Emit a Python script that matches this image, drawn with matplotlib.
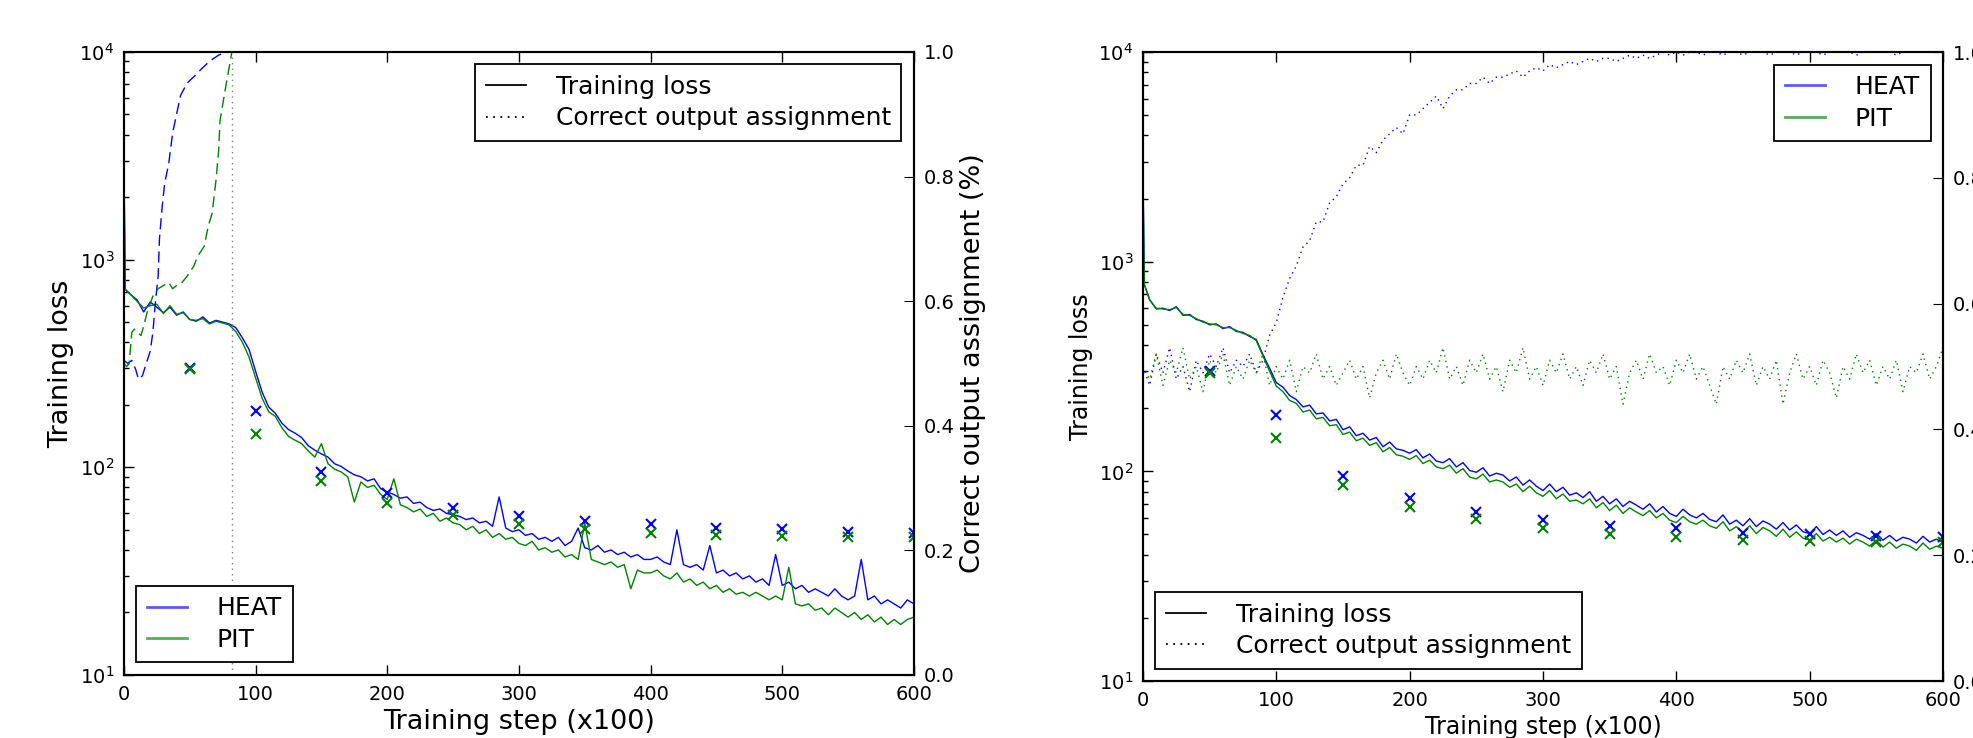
import numpy as np
import matplotlib
matplotlib.use('Agg')
import matplotlib.pyplot as plt
from matplotlib.lines import Line2D
from matplotlib.ticker import FormatStrFormatter

plt.rcParams['font.family'] = ['DejaVu Sans']
plt.rcParams['mathtext.fontset'] = 'dejavusans'
plt.rcParams['mathtext.default'] = 'regular'

# ---- data ----
loss_steps = np.r_[0, 1, np.arange(5, 601, 5)]

left_heat_loss = [3000, 720,
    680, 640, 560, 625, 590, 555, 590, 540, 560, 515,
    505, 530, 495, 510, 500, 490, 470, 420, 370, 290,
    230, 195, 182, 163, 152, 146, 139, 127, 121, 116,
    112, 104, 101, 96, 92, 90, 86, 88, 79, 76,
    74, 71, 72, 67, 68, 64, 62, 63, 60, 59,
    58, 56, 57, 54, 55, 52, 72, 51, 49, 50,
    47, 48, 45, 46, 44, 46, 42, 44, 51, 41,
    40, 42, 39, 40, 38, 39, 37, 38, 36, 36,
    37, 35, 34, 50, 34, 33, 34, 32, 42, 31,
    32, 30, 31, 29, 30, 28, 29, 27, 38, 27,
    28, 26, 27, 25, 26, 25, 24, 26, 24, 23,
    24, 36, 23, 24, 22, 23, 22, 21, 23, 22]

left_pit_loss = [3000, 720,
    680, 630, 585, 600, 610, 550, 600, 545, 555, 515,
    510, 520, 490, 505, 495, 485, 450, 400, 340, 270,
    215, 185, 176, 155, 141, 135, 130, 120, 112, 130,
    104, 98, 95, 90, 68, 85, 80, 82, 74, 70,
    88, 66, 64, 61, 63, 58, 60, 55, 57, 54,
    53, 50, 52, 48, 50, 46, 48, 45, 46, 43,
    42, 44, 40, 41, 39, 40, 37, 38, 36, 54,
    36, 35, 34, 35, 33, 34, 26, 32, 31, 31,
    32, 30, 29, 31, 28, 29, 27, 28, 26, 27,
    25, 26, 24.5, 25, 24, 25, 24, 23, 24, 23,
    33, 22, 21.5, 22, 20.5, 21, 19.5, 21, 20, 19,
    20, 18.5, 19.5, 18, 19, 17.5, 18.5, 17.5, 18.5, 19]

right_heat_loss = [2720, 780,
    660, 595, 600, 585, 610, 555, 560, 530, 520, 500,
    505, 480, 490, 465, 460, 440, 425, 360, 310, 265,
    252, 230, 220, 203, 207, 188, 190, 174, 177, 158,
    163, 148, 152, 141, 145, 131, 138, 128, 126, 122,
    127, 116, 121, 112, 110, 115, 105, 110, 101, 99,
    104, 95, 98, 96, 90, 94, 86, 91, 85, 81,
    87, 80, 84, 77, 79, 75, 80, 72, 76, 70,
    74, 68, 72, 69, 66, 70, 64, 68, 63, 61,
    66, 62, 60, 63, 59, 57.5, 62, 56, 58.5, 55,
    59.5, 54.5, 58, 56, 53, 57, 52.5, 55.5, 51.5, 50.5,
    54.5, 50, 52.5, 49.5, 52, 48.5, 51, 49.5, 47.5, 50.5,
    47, 49.5, 46.5, 48.5, 47.5, 45.5, 49, 46, 47.5, 46]

right_pit_loss = [2720, 780,
    655, 600, 595, 590, 605, 560, 555, 535, 515, 505,
    500, 485, 485, 470, 455, 445, 420, 355, 300, 255,
    240, 218, 211, 192, 196, 178, 181, 165, 167, 150,
    154, 140, 144, 133, 137, 124, 130, 120, 118, 114,
    119, 109, 113, 105, 103, 107, 98, 103, 94, 92,
    97, 89, 91, 89, 84, 87, 80, 85, 79, 76,
    81, 74, 78, 72, 73, 70, 74, 67, 71, 65,
    69, 63, 67, 64, 61.5, 65, 60, 63, 58.5, 57,
    61, 57.5, 56, 58.5, 55, 53.5, 57.5, 52, 54.5, 51,
    55, 50.5, 54, 52, 49, 53, 48.5, 51.5, 48, 47,
    50.5, 46.5, 48.5, 46, 48, 45, 47.5, 46, 44, 47,
    43.5, 46, 43, 45, 44, 42, 45.5, 42.5, 44, 43]

val_steps = [50, 100, 150, 200, 250, 300, 350, 400, 450, 500, 550, 600]
val_heat = [300, 186, 95, 75, 64, 58.5, 55, 53.5, 51, 50.4, 49, 48.5]
val_pit = [296, 144, 86, 67.5, 59, 53.5, 50.5, 48.5, 47, 46.6, 46, 46]

# correct output assignment, left panel
left_heat_asg_steps = [0, 3, 6, 9, 11, 14, 17, 20, 22, 24, 26, 27, 29, 31, 34,
                       37, 40, 43, 48, 53, 59, 65, 72, 78]
left_heat_asg = [0.505, 0.50, 0.505, 0.49, 0.475, 0.48, 0.50, 0.52, 0.55, 0.60,
                 0.64, 0.70, 0.75, 0.79, 0.82, 0.87, 0.90, 0.93, 0.95, 0.96,
                 0.973, 0.985, 0.995, 1.0]
left_pit_asg_steps = [0, 2, 4, 6, 8, 10, 13, 15, 18, 22, 26, 30, 34, 37, 40, 43,
                      48, 53, 56, 61, 64, 67, 70, 72, 73, 77, 80, 82]
left_pit_asg = [0.50, 0.495, 0.50, 0.55, 0.555, 0.55, 0.545, 0.56, 0.585, 0.608,
                0.62, 0.625, 0.63, 0.62, 0.625, 0.627, 0.64, 0.656, 0.672, 0.688,
                0.72, 0.741, 0.795, 0.843, 0.89, 0.94, 0.976, 1.0]
switch_step = 82

# correct output assignment, right panel
asg_steps = np.arange(0, 601, 5)
right_heat_asg = [
    0.50, 0.47, 0.52, 0.49, 0.53, 0.48, 0.50, 0.46, 0.51, 0.49,
    0.52, 0.50, 0.53, 0.49, 0.51, 0.50, 0.52, 0.49, 0.51, 0.55,
    0.57, 0.61, 0.64, 0.66, 0.69, 0.70, 0.73, 0.73, 0.76, 0.77,
    0.79, 0.80, 0.82, 0.82, 0.85, 0.84, 0.86, 0.87, 0.88, 0.87,
    0.90, 0.90, 0.91, 0.92, 0.93, 0.91, 0.93, 0.94, 0.94, 0.95,
    0.95, 0.96, 0.95, 0.96, 0.96, 0.965, 0.97, 0.96, 0.97, 0.975,
    0.97, 0.98, 0.975, 0.98, 0.985, 0.98, 0.985, 0.99, 0.985, 0.99,
    0.99, 0.985, 0.99, 0.995, 0.99, 0.995, 0.99, 0.995, 1.0, 0.995,
    1.0, 0.995, 1.0, 1.0, 0.995, 1.0, 1.0, 0.995, 1.0, 1.0,
    0.995, 1.0, 1.0, 1.0, 0.995, 1.0, 1.0, 1.0, 0.995, 1.0,
    1.0, 1.0, 0.995, 1.0, 1.0, 1.0, 1.0, 0.995, 1.0, 1.0,
    1.0, 1.0, 1.0, 0.995, 1.0, 1.0, 1.0, 1.0, 1.0, 1.0,
    1.0]
right_pit_asg = [
    0.50, 0.48, 0.52, 0.47, 0.51, 0.49, 0.53, 0.48, 0.50, 0.46,
    0.51, 0.49, 0.52, 0.47, 0.50, 0.48, 0.51, 0.49, 0.52, 0.47,
    0.50, 0.48, 0.51, 0.46, 0.50, 0.49, 0.52, 0.48, 0.50, 0.47,
    0.49, 0.51, 0.48, 0.50, 0.45, 0.49, 0.51, 0.48, 0.52, 0.49,
    0.47, 0.50, 0.48, 0.51, 0.49, 0.53, 0.48, 0.50, 0.47, 0.51,
    0.49, 0.52, 0.48, 0.50, 0.46, 0.51, 0.49, 0.53, 0.48, 0.50,
    0.47, 0.51, 0.49, 0.52, 0.48, 0.50, 0.47, 0.51, 0.49, 0.52,
    0.48, 0.50, 0.44, 0.49, 0.51, 0.48, 0.52, 0.49, 0.50, 0.47,
    0.51, 0.49, 0.52, 0.48, 0.50, 0.47, 0.44, 0.50, 0.48, 0.51,
    0.49, 0.52, 0.47, 0.50, 0.48, 0.51, 0.44, 0.49, 0.52, 0.48,
    0.50, 0.47, 0.51, 0.49, 0.45, 0.50, 0.48, 0.52, 0.49, 0.51,
    0.47, 0.50, 0.48, 0.51, 0.46, 0.50, 0.49, 0.52, 0.48, 0.50,
    0.53]

BLUE = '#0000ff'
GREEN = '#008000'
DOTS = (0, (1, 3))
DASH = (0, (8, 4))


def style_axes(ax, ax2, label_size):
    ax.set_yscale('log')
    ax.set_ylim(10, 1e4)
    ax.set_xlim(0, 600)
    ax.set_xticks(range(0, 601, 100))
    ax.tick_params(which='both', direction='in', top=True, right=False,
                   labelsize=14, pad=7)
    ax.tick_params(which='major', length=7, width=1)
    ax.tick_params(which='minor', length=3.5, width=1)
    ax2.set_ylim(0, 1)
    ax2.set_yticks(np.arange(0, 1.01, 0.2))
    ax2.yaxis.set_major_formatter(FormatStrFormatter('%.1f'))
    ax2.tick_params(direction='in', length=7, labelsize=14, pad=7)
    for a in (ax, ax2):
        for s in a.spines.values():
            s.set_linewidth(1.5)
    ax.set_xlabel('Training step (x100)', fontsize=label_size)
    ax.set_ylabel('Training loss', fontsize=label_size)


def legend(ax, handles, labels, loc):
    leg = ax.legend(handles, labels, loc=loc, fontsize=18, fancybox=False,
                    handlelength=1.6, handletextpad=1.2, borderpad=0.42,
                    labelspacing=0.3, borderaxespad=0.5, framealpha=1)
    leg.get_frame().set_edgecolor('black')
    leg.get_frame().set_linewidth(1.3)
    return leg


fig = plt.figure(figsize=(19.73, 7.38), dpi=100)

ax1 = fig.add_axes([0.0628, 0.0854, 0.4004, 0.8442])
ax1b = ax1.twinx()
ax3 = fig.add_axes([0.5793, 0.0772, 0.4055, 0.8523])
ax3b = ax3.twinx()

# left panel
ax1.plot(loss_steps, left_heat_loss, color=BLUE, lw=1)
ax1.plot(loss_steps, left_pit_loss, color=GREEN, lw=1)
ax1.plot(val_steps, val_heat, 'x', color=BLUE, ms=7, mew=1.5)
ax1.plot(val_steps, val_pit, 'x', color=GREEN, ms=7, mew=1.5)
ax1b.plot(left_heat_asg_steps, left_heat_asg, color=BLUE, lw=1, linestyle=DASH)
ax1b.plot(left_pit_asg_steps, left_pit_asg, color=GREEN, lw=1, linestyle=DASH)
ax1b.axvline(switch_step, color='gray', lw=1, linestyle=DOTS)
style_axes(ax1, ax1b, 19.5)
ax1b.set_ylabel('Correct output assignment (%)', fontsize=19.5)

# right panel
ax3.plot(loss_steps, right_heat_loss, color=BLUE, lw=1)
ax3.plot(loss_steps, right_pit_loss, color=GREEN, lw=1)
ax3.plot(val_steps, val_heat, 'x', color=BLUE, ms=7, mew=1.5)
ax3.plot(val_steps, val_pit, 'x', color=GREEN, ms=7, mew=1.5)
ax3b.plot(asg_steps, right_heat_asg, color=BLUE, lw=1, linestyle=DOTS)
ax3b.plot(asg_steps, right_pit_asg, color=GREEN, lw=1, linestyle=DOTS)
style_axes(ax3, ax3b, 17)

kind_handles = [Line2D([], [], color='black', lw=1.3),
                Line2D([], [], color='black', lw=1.3, linestyle=DOTS)]
kind_labels = ['Training loss', 'Correct output assignment']
model_handles = [Line2D([], [], color=BLUE, lw=2, alpha=0.65),
                 Line2D([], [], color=GREEN, lw=2, alpha=0.65)]
model_labels = ['HEAT', 'PIT']

legend(ax1b, kind_handles, kind_labels, 'upper right')
ax1b.add_artist(ax1b.get_legend())
legend(ax1b, model_handles, model_labels, 'lower left')
legend(ax3b, model_handles, model_labels, 'upper right')
ax3b.add_artist(ax3b.get_legend())
legend(ax3b, kind_handles, kind_labels, 'lower left')

fig.savefig('out.png', dpi=100)
